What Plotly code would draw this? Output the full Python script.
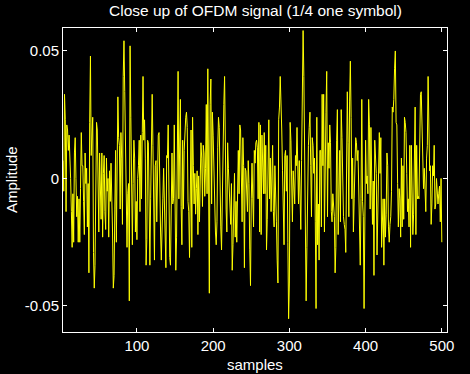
import plotly.graph_objects as go

# Amplitude readings (units of 1e-3), samples 3..500
seg1 = [7, -5, 33, 23, -13, 21, 19, 11, 17, 10, 0, -13, -27, -6, -25, 10, 16, 0, -15, -7,
        -25, -8, -25, -4, 18, 5, 5, -9, -22, 10, -2, 4, -19, -2, -37, 22, 48, 9, 20, 24,
        -29, -43, -34, 20, 22, 19, -19, -21, 10, -11, -16, 10, -23, 2, 9, -13, -20, 8, -5, 0,
        -23, 3, -9, 6, -19, -21, -43, -38, -12, 11, -25, 8, 32, 16, 13, -12, 18, 8, -18, 40,
        54, 34, 13, 0, -27, -6]
seg2 = [-2, -48, 52, 24, -25, -26, -2, 15, 8, -21, -9, -24, 0, 5, 15, -13, 17, -8, 18, 40,
        15, 23, 8, -34, -24, 15, 14, -30, -34, -8, 26, 33, 13, -30, -32, 5, 7, -17, 11, 17,
        18, -17, -21, -32, -14, -8, 4, -9, -11, -35, 9, 8, 21, -11, -31, -34, -9, 10, -10, -8,
        21, -21, -36, -23, 15, 42, -8, 9, 31, -11, -26, 15, -12, 11, 19, 24, 26, 20, -9, -13,
        -31, 15, 19, -27]
seg3 = [24, 5, -10, 2, -14, -4, 3, -22, 1, -17, 2, 14, 8, -11, 13, 10, -7, 4, 29, -6,
        43, -22, -45, 29, 39, -10, 26, 17, -2, -13, -21, -26, -17, 12, 24, 20, -5, -19, -28, -4,
        19, 29, 40, 4, -12, -21, 14, 4, -3, -10, -18, -2, -36, -26, -8, 2, -23, -9, -25, -4,
        11, -6, 21, 19, -8, -17, 16, 5, -35, 4, 3, -6, -13, 7, -2, -28, -42, -8, 6, -8,
        -19, 11, 6, 14]
seg4 = [15, 12, -8, 22, -21, 21, -22, 17, -1, -6, 18, -6, 13, -28, -16, 10, 23, -8, 8, -13,
        4, 13, -13, -19, 5, -15, -17, -32, -41, 23, 28, 40, 20, 19, 3, -10, -26, 9, 11, -5,
        9, -25, -55, -41, 22, 15, -3, -17, 3, -2, -10, 9, 5, 20, 3, -10, 7, -13, -20, 7,
        32, 58, 40, 9, -12, -48, -27, -1, 13, 20, 26, 5, -15, 16, 13, 2, 8, -17, -51, 24,
        -26, -10, -32, 11]
seg5 = [11, -19, 33, 5, 33, -21, 21, 26, 42, -15, 14, 4, 21, 14, -13, -17, -6, -11, -15, -37,
        -27, 15, 27, -22, 4, 11, -17, 27, 16, -9, -15, -18, -20, -29, 3, 34, 14, -15, 30, 46,
        24, -8, 8, -21, -8, 4, 16, 14, 7, 11, -8, -17, -34, -8, 31, -9, -15, -51, 2, 15,
        -2, 1, -6, 31, 21, -12, 20, -13, -18, -1, -38, 15, 5, 2, -30, -12, 15, 18, 2, 16,
        -27, -18, -8, -34]
seg6 = [-8, -23, -14, 10, 5, -19, -25, -18, -15, -5, 28, 26, 31, 43, 50, 22, 21, -2, -19, -4,
        -8, -23, 8, -19, 5, -16, 24, 22, 18, 2, -13, -8, -19, 13, -27, 13, -4, -22, -14, 12,
        28, -22, 13, -8, -7, -8, 25, 33, 34, 23, 16, -4, 4, -8, -13, 8, 13, 40, 27, 3,
        5, -18, -10, 5, 1, 13, -12, -10, 0, -9, -10, -6, -3, -17, 0, -25]

amplitude = [v / 1000.0 for v in seg1 + seg2 + seg3 + seg4 + seg5 + seg6]
first_sample = 3
samples = list(range(first_sample, first_sample + len(amplitude)))

x_ticks = [100, 200, 300, 400, 500]
y_ticks = [-0.05, 0, 0.05]
y_tick_text = ["-0.05", "0", "0.05"]

FONT = "Liberation Sans, Arial, sans-serif"

fig = go.Figure()
fig.add_trace(go.Scatter(x=samples, y=amplitude, mode="lines",
                         line=dict(color="#FFFF00", width=1), hoverinfo="skip"))

axis_common = dict(showline=True, linecolor="white", linewidth=1, mirror="ticks",
                   ticks="inside", ticklen=4, tickcolor="white", tickwidth=1,
                   showgrid=False, zeroline=False,
                   tickfont=dict(family=FONT, size=15, color="white"))

fig.update_xaxes(range=[3, 506.8], tickvals=x_ticks, **axis_common)
fig.update_yaxes(range=[-0.0602, 0.0590], tickvals=y_ticks, ticktext=y_tick_text, **axis_common)

fig.update_layout(
    width=470, height=374,
    margin=dict(l=63, r=23, t=28, b=42),
    paper_bgcolor="black", plot_bgcolor="black",
    showlegend=False,
    hovermode=False,
    font=dict(family=FONT, color="white", size=15),
    annotations=[
        dict(text="Close up of OFDM signal (1/4 one symbol)", xref="paper", yref="paper",
             x=0.5, y=1, yshift=18, showarrow=False, xanchor="center", yanchor="middle",
             font=dict(family=FONT, size=15.5, color="white")),
        dict(text="samples", xref="paper", yref="paper", x=0.5, y=0, yshift=-32,
             showarrow=False, xanchor="center", yanchor="middle",
             font=dict(family=FONT, size=15, color="white")),
        dict(text="Amplitude", xref="paper", yref="paper", x=0, y=0.5, xshift=-52,
             textangle=-90, showarrow=False, xanchor="center", yanchor="middle",
             font=dict(family=FONT, size=15, color="white")),
    ],
)

fig.write_html("out.html",
               config={"displayModeBar": False, "staticPlot": True},
               post_script="document.body.style.margin='0';document.body.style.padding='0';"
                           "document.body.style.background='black';")
